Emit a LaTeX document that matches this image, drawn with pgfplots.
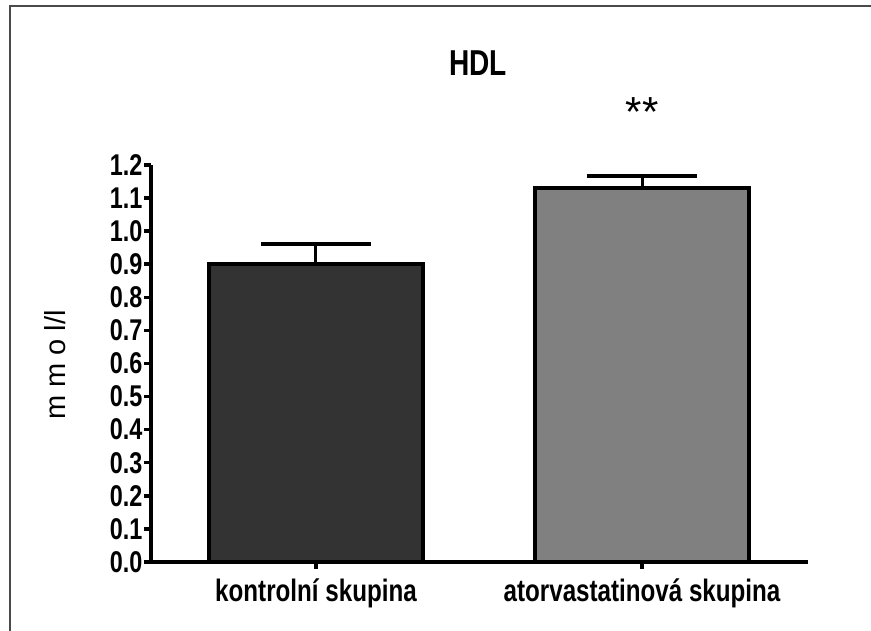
\documentclass[border=0pt]{standalone}
\usepackage{pgfplots}
\pgfplotsset{compat=1.18}
\usepackage{fontspec}
\setmainfont{Liberation Sans}
\newfontfamily\narrow{Liberation Sans}[FakeStretch=0.78]
\definecolor{barA}{HTML}{333333}
\definecolor{barB}{HTML}{808080}
\definecolor{frame}{HTML}{4A4A4A}
\begin{document}
\begin{tikzpicture}[x=1pt,y=1pt]
\path[use as bounding box] (0,0) rectangle (871,631);
\draw[frame, line width=2pt] (10,0) -- (10,625) -- (871,625);
\node[font=\narrow\bfseries\fontsize{36}{38}\selectfont] at (478,568) {HDL};
\node[rotate=90, font=\fontsize{29}{31}\selectfont] at (55,266) {m m o l/l};
\begin{axis}[
  at={(151pt,69pt)}, anchor=south west,
  scale only axis, width=657pt, height=397pt,
  xmin=0.494, xmax=2.509, ymin=0, ymax=1.2,
  axis lines=left,
  axis line style={-, line width=4pt, black},
  clip=false,
  xtick={1,2},
  xticklabels={kontrolní skupina, atorvastatinová skupina},
  ytick={0,0.1,...,1.2},
  yticklabel style={/pgf/number format/fixed, /pgf/number format/fixed zerofill, /pgf/number format/precision=1},
  /pgf/number format/assume math mode=true,
  yticklabel style={font=\narrow\bfseries\fontsize{30}{32}\selectfont, xshift=2pt},
  xticklabel style={font=\narrow\bfseries\fontsize{31}{33}\selectfont, yshift=-6pt},
  tick align=outside,
  major tick length=7pt,
  tick style={line width=3.5pt, black},
  ybar, bar width=214pt,
]
\addplot[bar shift=0pt, fill=barA, draw=black, line width=4pt,
  error bars/.cd, y dir=plus, y explicit,
  error bar style={line width=3pt, black},
  error mark options={rotate=90, mark size=55pt, line width=4pt, black}]
  coordinates {(1,0.90) +- (0,0.062)};
\addplot[bar shift=0pt, fill=barB, draw=black, line width=4pt,
  error bars/.cd, y dir=plus, y explicit,
  error bar style={line width=3pt, black},
  error mark options={rotate=90, mark size=55pt, line width=4pt, black}]
  coordinates {(2,1.131) +- (0,0.037)};
\node[font=\fontsize{42}{44}\selectfont] at (axis cs:2,1.36) {**};
\end{axis}
\end{tikzpicture}
\end{document}
